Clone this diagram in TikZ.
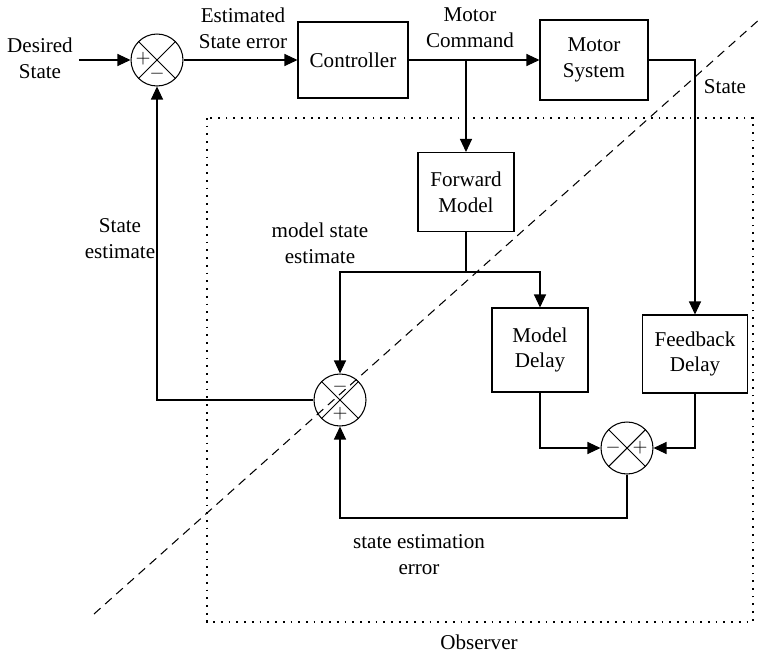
\documentclass[tikz,border=0pt]{standalone}
\usepackage{fontspec}
\setmainfont{Liberation Serif}
\usetikzlibrary{arrows.meta,positioning,calc}

\begin{document}
\begin{tikzpicture}[x=0.02cm, y=-0.02cm,
font=\fontsize{12}{14.7}\selectfont,
block/.style={draw, align=center, line width=0.6pt},
sumnode/.style={draw, circle, line width=0.6pt, minimum size=1.04cm, inner sep=0pt,
  path picture={\draw[line width=0.6pt] (path picture bounding box.north west) -- (path picture bounding box.south east)
    (path picture bounding box.north east) -- (path picture bounding box.south west);}},
sgn/.style={inner sep=0pt, font=\fontsize{11}{11}\selectfont},
lbl/.style={align=center},
arrow/.style={-{Triangle[length=2.6mm,width=2.4mm]}, line width=0.6pt},
wire/.style={line width=0.6pt},
obs/.style={line width=0.9pt, dash pattern=on 1pt off 3.4pt},
divider/.style={line width=0.6pt, dash pattern=on 5pt off 3.5pt}
]
\useasboundingbox (0,0) rectangle (762,656);

% blocks
\node[block, minimum width=2.2cm, minimum height=1.52cm] (ctrl) at (353,60) {Controller};
\node[block, minimum width=2.16cm, minimum height=1.6cm] (motor) at (594,60) {Motor\\System};
\node[block, minimum width=1.92cm, minimum height=1.58cm] (fwd) at (466,192) {Forward\\Model};
\node[block, minimum width=1.92cm, minimum height=1.68cm] (mdelay) at (540,350) {Model\\Delay};
\node[block, minimum width=2.1cm, minimum height=1.56cm] (fdelay) at (695,354) {Feedback\\Delay};

% summing junctions
\node[sumnode] (s1) at (157,60) {};
\node[sumnode] (s2) at (340,400) {};
\node[sumnode] (s3) at (627,448) {};
\node[sgn] at ($(s1)+(-14,-1)$) {$+$};
\node[sgn] at ($(s1)+(0,14)$) {$-$};
\node[sgn] at ($(s2)+(0,-13)$) {$-$};
\node[sgn] at ($(s2)+(0,14)$) {$+$};
\node[sgn] at ($(s3)+(-14,0)$) {$-$};
\node[sgn] at ($(s3)+(13,0)$) {$+$};

% labels
\node[lbl] (desired) at (40,58) {Desired\\State};
\node[lbl] (esterr) at (243,28) {Estimated\\State error};
\node[lbl] (motcmd) at (470,28) {Motor\\Command};
\node[lbl] (state) at (725,87) {State};
\node[lbl] (stateest) at (120,239) {State\\estimate};
\node[lbl] (modelest) at (320,243) {model state\\estimate};
\node[lbl] (esterror) at (419,555) {state estimation\\error};
\node[lbl] (obslbl) at (479,642) {Observer};

% observer frame
\draw[obs] (207,118) rectangle (753,622);

% connections
\draw[arrow] (desired.east |- s1) -- (s1);
\draw[arrow] (s1) -- (ctrl);
\draw[arrow] (ctrl) -- (motor);
\draw[arrow] (ctrl.east -| fwd) -- (fwd);
\draw[arrow] (motor.east) -| (fdelay.north);
\coordinate (fork) at ($(fwd.south)+(0,40)$);
\draw[wire] (fwd) -- (fork);
\draw[arrow] (fork) -| (s2);
\draw[arrow] (fork) -| (mdelay);
\draw[arrow] (mdelay) |- (s3);
\draw[arrow] (fdelay) |- (s3);
\draw[arrow] (s3) -- ++(0,70) -| (s2);
\draw[arrow] (s2) -| (s1);

% dividing line
\coordinate (dl) at (94,614);
\coordinate (du) at (761,18);
\draw[divider] (dl) -- (du);
\end{tikzpicture}
\end{document}
